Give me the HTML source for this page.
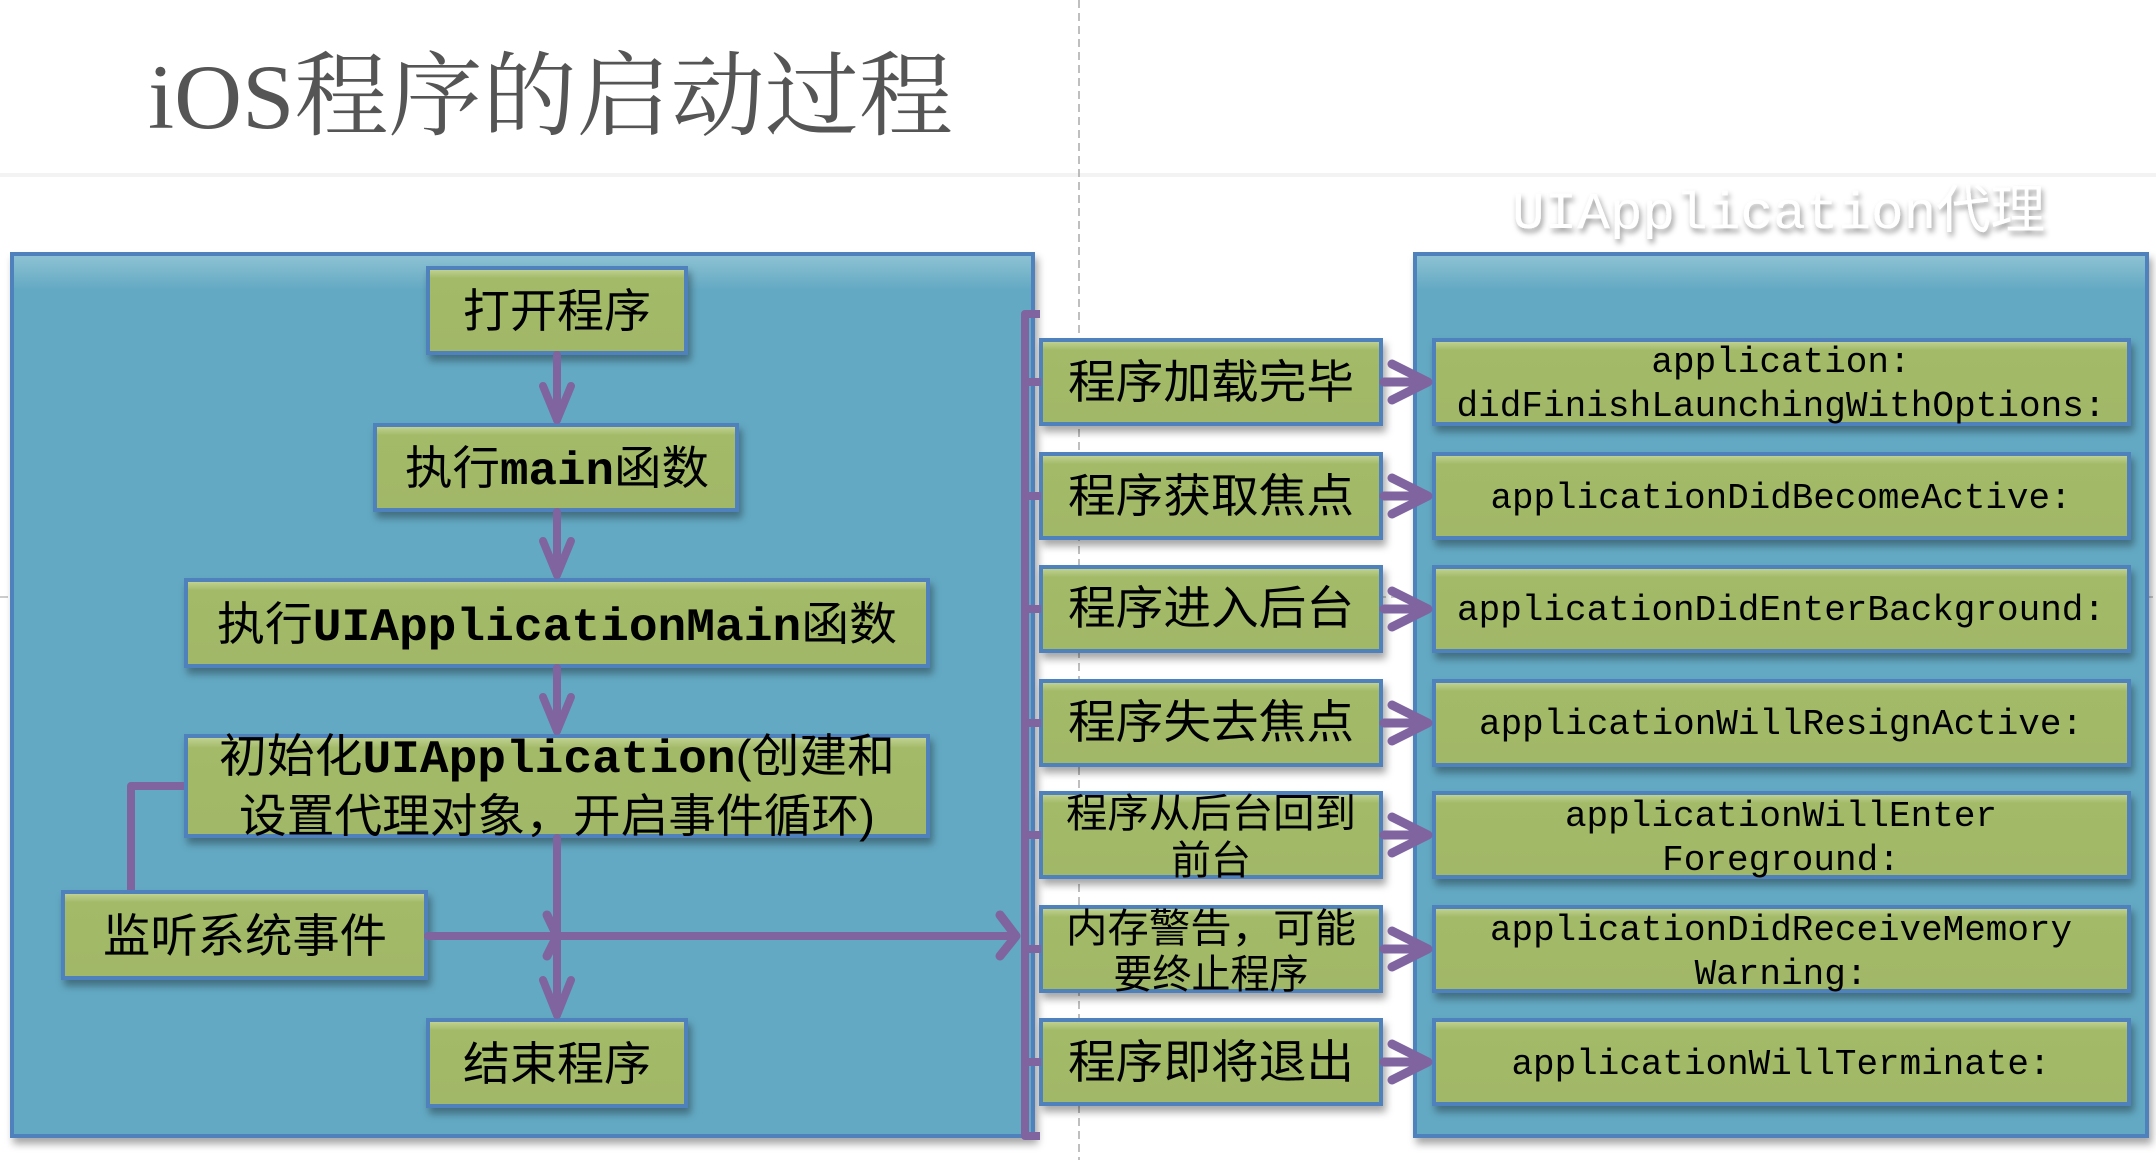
<!DOCTYPE html>
<html><head><meta charset="utf-8"><style>
html,body{margin:0;padding:0;background:#fff;width:2156px;height:1160px;overflow:hidden}
svg{display:block}
.cj{font-family:"Liberation Sans","Noto Sans CJK SC",sans-serif}
.mo{font-family:"Liberation Mono","Noto Sans CJK SC",monospace}
</style></head><body>
<svg width="2156" height="1160" viewBox="0 0 2156 1160" xmlns="http://www.w3.org/2000/svg">
<defs>
<filter id="sh" x="-5%" y="-5%" width="115%" height="130%"><feDropShadow dx="3" dy="6" stdDeviation="4" flood-color="#000" flood-opacity="0.35"/></filter>
<filter id="ts"><feDropShadow dx="2" dy="4" stdDeviation="3" flood-color="#000" flood-opacity="0.4"/></filter>
<linearGradient id="gb" x1="0" y1="0" x2="0" y2="1"><stop offset="0" stop-color="#c6d69a"/><stop offset="0.12" stop-color="#a3ba68"/><stop offset="1" stop-color="#a1b867"/></linearGradient>
<linearGradient id="pb" x1="0" y1="0" x2="0" y2="1"><stop offset="0" stop-color="#8fc3d4"/><stop offset="0.04" stop-color="#64a9c3"/><stop offset="1" stop-color="#64a9c3"/></linearGradient>
</defs>
<!-- title -->
<text x="148" y="128" font-family="'Liberation Serif','Noto Serif CJK SC',serif" font-size="92" fill="#555" textLength="805" lengthAdjust="spacingAndGlyphs">iOS程序的启动过程</text>
<rect x="0" y="173" width="2156" height="4" fill="#f3f3f3"/>
<line x1="1079" y1="0" x2="1079" y2="1160" stroke="#aaa" stroke-width="1.5" stroke-dasharray="8,5"/>
<line x1="0" y1="597" x2="2156" y2="597" stroke="#bbb" stroke-width="1.5" stroke-dasharray="8,5"/>
<!-- panels -->
<rect x="12" y="254" width="1021" height="882" fill="url(#pb)" stroke="#4f81bd" stroke-width="4" filter="url(#sh)"/>
<rect x="1415" y="254" width="732" height="882" fill="url(#pb)" stroke="#4f81bd" stroke-width="4" filter="url(#sh)"/>
<text x="1512" y="228" class="mo" font-size="52" fill="#fff" filter="url(#ts)" textLength="533" lengthAdjust="spacingAndGlyphs">UIApplication代理</text>

<g fill="url(#gb)" stroke="#4f81bd" stroke-width="4" filter="url(#sh)">
<rect x="428" y="268" width="258" height="85"/>
<rect x="375" y="425" width="362" height="85"/>
<rect x="186" y="580" width="742" height="86"/>
<rect x="186" y="736" width="742" height="100"/>
<rect x="63" y="892" width="363" height="86"/>
<rect x="428" y="1020" width="258" height="86"/>
<rect x="1041" y="340" width="340" height="84"/>
<rect x="1041" y="454" width="340" height="84"/>
<rect x="1041" y="567" width="340" height="84"/>
<rect x="1041" y="681" width="340" height="84"/>
<rect x="1041" y="793" width="340" height="84"/>
<rect x="1041" y="907" width="340" height="84"/>
<rect x="1041" y="1020" width="340" height="84"/>
<rect x="1434" y="340" width="695" height="84"/>
<rect x="1434" y="454" width="695" height="84"/>
<rect x="1434" y="567" width="695" height="84"/>
<rect x="1434" y="681" width="695" height="84"/>
<rect x="1434" y="793" width="695" height="84"/>
<rect x="1434" y="907" width="695" height="84"/>
<rect x="1434" y="1020" width="695" height="84"/>
</g>

<!-- connectors -->
<g stroke="#7f64a0" stroke-width="8" fill="none" stroke-linecap="round" stroke-linejoin="round">
<line x1="557" y1="355" x2="557" y2="420"/><polyline points="543,386 557,420 571,386"/>
<line x1="557" y1="512" x2="557" y2="575"/><polyline points="543,541 557,575 571,541"/>
<line x1="557" y1="668" x2="557" y2="731"/><polyline points="543,697 557,731 571,697"/>
<line x1="557" y1="838" x2="557" y2="1015"/><polyline points="543,980 557,1015 571,980"/>
<line x1="428" y1="936" x2="1016" y2="936"/>
<polyline points="547,915 557,936 547,956" stroke-width="9"/>
<polyline points="1000,915 1016,936 1000,956" stroke-width="9"/>
<polyline points="184,786 131,786 131,890" stroke-linecap="butt"/>
<polyline points="1040,314 1025,314 1025,1136 1040,1136" stroke-linecap="butt"/>
<g stroke-linecap="butt">
<line x1="1025" y1="382" x2="1041" y2="382"/><line x1="1025" y1="496" x2="1041" y2="496"/>
<line x1="1025" y1="609" x2="1041" y2="609"/><line x1="1025" y1="723" x2="1041" y2="723"/>
<line x1="1025" y1="835" x2="1041" y2="835"/><line x1="1025" y1="949" x2="1041" y2="949"/>
<line x1="1025" y1="1062" x2="1041" y2="1062"/>
</g>
<g stroke-width="9">
<path d="M1384 382H1426M1392 364L1428 382L1392 400"/>
<path d="M1384 496H1426M1392 478L1428 496L1392 514"/>
<path d="M1384 609H1426M1392 591L1428 609L1392 627"/>
<path d="M1384 723H1426M1392 705L1428 723L1392 741"/>
<path d="M1384 835H1426M1392 817L1428 835L1392 853"/>
<path d="M1384 949H1426M1392 931L1428 949L1392 967"/>
<path d="M1384 1062H1426M1392 1044L1428 1062L1392 1080"/>
</g>
</g>

<!-- left texts -->
<g class="cj" font-size="46" fill="#000" text-anchor="middle">
<text x="557" y="327" textLength="188" lengthAdjust="spacingAndGlyphs">打开程序</text>
<text x="557" y="484" textLength="304" lengthAdjust="spacingAndGlyphs">执行<tspan class="mo" font-weight="bold">main</tspan>函数</text>
<text x="557" y="640" textLength="680" lengthAdjust="spacingAndGlyphs">执行<tspan class="mo" font-weight="bold">UIApplicationMain</tspan>函数</text>
<text x="557" y="772" textLength="676" lengthAdjust="spacingAndGlyphs">初始化<tspan class="mo" font-weight="bold">UIApplication</tspan>(创建和</text>
<text x="557" y="832" textLength="636" lengthAdjust="spacingAndGlyphs">设置代理对象，开启事件循环)</text>
<text x="245" y="952" textLength="284" lengthAdjust="spacingAndGlyphs">监听系统事件</text>
<text x="557" y="1080" textLength="188" lengthAdjust="spacingAndGlyphs">结束程序</text>
</g>
<g class="cj" font-size="46" fill="#000" text-anchor="middle">
<text x="1211" y="398" textLength="286" lengthAdjust="spacingAndGlyphs">程序加载完毕</text>
<text x="1211" y="512" textLength="286" lengthAdjust="spacingAndGlyphs">程序获取焦点</text>
<text x="1211" y="624" textLength="286" lengthAdjust="spacingAndGlyphs">程序进入后台</text>
<text x="1211" y="738" textLength="286" lengthAdjust="spacingAndGlyphs">程序失去焦点</text>
<text x="1211" y="827" font-size="40" textLength="290" lengthAdjust="spacingAndGlyphs">程序从后台回到</text>
<text x="1211" y="874" font-size="40">前台</text>
<text x="1211" y="942" font-size="40" textLength="290" lengthAdjust="spacingAndGlyphs">内存警告，可能</text>
<text x="1211" y="988" font-size="40" textLength="195" lengthAdjust="spacingAndGlyphs">要终止程序</text>
<text x="1211" y="1078" textLength="286" lengthAdjust="spacingAndGlyphs">程序即将退出</text>
</g>
<g class="mo" font-size="36" fill="#000" text-anchor="middle">
<text x="1781" y="372">application:</text>
<text x="1781" y="416" textLength="649" lengthAdjust="spacingAndGlyphs">didFinishLaunchingWithOptions:</text>
<text x="1781" y="508" textLength="581" lengthAdjust="spacingAndGlyphs">applicationDidBecomeActive:</text>
<text x="1781" y="620" textLength="648" lengthAdjust="spacingAndGlyphs">applicationDidEnterBackground:</text>
<text x="1781" y="734" textLength="604" lengthAdjust="spacingAndGlyphs">applicationWillResignActive:</text>
<text x="1781" y="826">applicationWillEnter</text>
<text x="1781" y="870">Foreground:</text>
<text x="1781" y="940" textLength="582" lengthAdjust="spacingAndGlyphs">applicationDidReceiveMemory</text>
<text x="1781" y="984">Warning:</text>
<text x="1781" y="1074" textLength="539" lengthAdjust="spacingAndGlyphs">applicationWillTerminate:</text>
</g>
</svg>
</body></html>
